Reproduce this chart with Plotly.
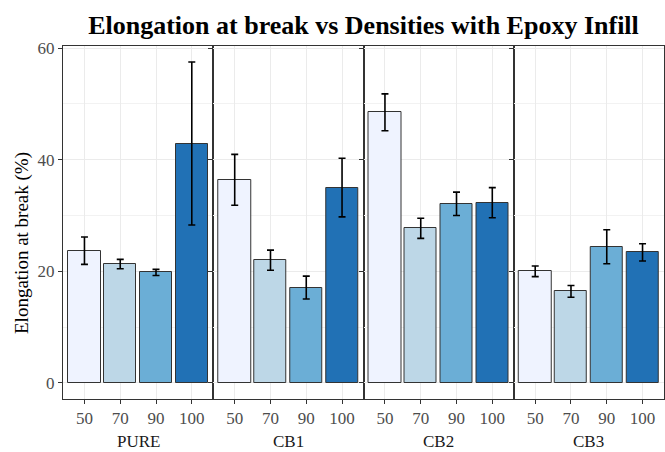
import plotly.graph_objects as go
from plotly.subplots import make_subplots

groups = ["PURE", "CB1", "CB2", "CB3"]
densities = ["50", "70", "90", "100"]
means = {
    "PURE": [23.7, 21.3, 19.8, 42.9],
    "CB1": [36.4, 22.0, 17.1, 35.0],
    "CB2": [48.5, 27.7, 32.1, 32.3],
    "CB3": [20.0, 16.4, 24.4, 23.4],
}
sds = {
    "PURE": [2.45, 0.85, 0.55, 14.6],
    "CB1": [4.55, 1.8, 2.05, 5.25],
    "CB2": [3.3, 1.8, 2.1, 2.7],
    "CB3": [0.95, 1.05, 3.05, 1.55],
}
colors = ["#EFF3FF", "#BDD7E7", "#6BAED6", "#2171B5"]

serif = "Liberation Serif"
fig = make_subplots(rows=1, cols=4, shared_yaxes=True, horizontal_spacing=0)

ymax = max(m + s for g in groups for m, s in zip(means[g], sds[g]))
pad = 0.05 * ymax

for i, g in enumerate(groups):
    fig.add_trace(
        go.Bar(
            x=densities,
            y=means[g],
            width=0.9,
            marker=dict(color=colors, line=dict(color="#333333", width=1)),
            error_y=dict(type="data", array=sds[g], visible=True,
                         color="black", thickness=1.6, width=3.5),
            showlegend=False,
        ),
        row=1, col=i + 1,
    )
    fig.update_xaxes(
        type="category", range=[-0.6, 3.6],
        showgrid=True, gridcolor="#EBEBEB", gridwidth=1,
        showline=True, linecolor="#333333", linewidth=1, mirror=True,
        ticks="outside", ticklen=4, tickcolor="#333333",
        tickfont=dict(family=serif, size=17, color="#4D4D4D"),
        row=1, col=i + 1,
    )

fig.update_yaxes(
    range=[-pad, ymax + pad],
    tickvals=[0, 20, 40, 60],
    showgrid=True, gridcolor="#EBEBEB", gridwidth=1,
    minor=dict(dtick=10, showgrid=True, gridcolor="#F2F2F2", gridwidth=0.6),
    zeroline=False,
    showline=True, linecolor="#333333", linewidth=1, mirror=True,
    ticks="outside", ticklen=4, tickcolor="#333333",
    tickfont=dict(family=serif, size=17, color="#4D4D4D"),
)

plot_w = 665 - 63 - 1
plot_h = 452 - 46 - 53
annotations = []
for i, g in enumerate(groups):
    axname = "xaxis" if i == 0 else f"xaxis{i+1}"
    dom = fig.layout[axname].domain
    annotations.append(dict(
        text=g, x=(dom[0] + dom[1]) / 2, xref="paper", y=-42 / plot_h, yref="paper",
        yanchor="middle", xanchor="center", showarrow=False,
        font=dict(family=serif, size=17, color="#1A1A1A"),
    ))
annotations.append(dict(
    text="Elongation at break (%)", textangle=-90,
    x=(22 - 63) / plot_w, xref="paper", xanchor="center",
    y=(399 - 243) / plot_h, yref="paper", yanchor="middle",
    showarrow=False, font=dict(family=serif, size=19, color="black"),
))

fig.update_layout(
    width=665, height=452,
    margin=dict(l=63, r=1, t=46, b=53),
    plot_bgcolor="white", paper_bgcolor="white",
    bargap=0,
    title=dict(text="<b>Elongation at break vs Densities with Epoxy Infill</b>",
               x=(63 + 664) / 2 / 665, xanchor="center", y=1 - 25 / 452, yanchor="middle",
               font=dict(family=serif, size=26, color="black")),
    annotations=annotations,
)

fig.write_html("out.html")
